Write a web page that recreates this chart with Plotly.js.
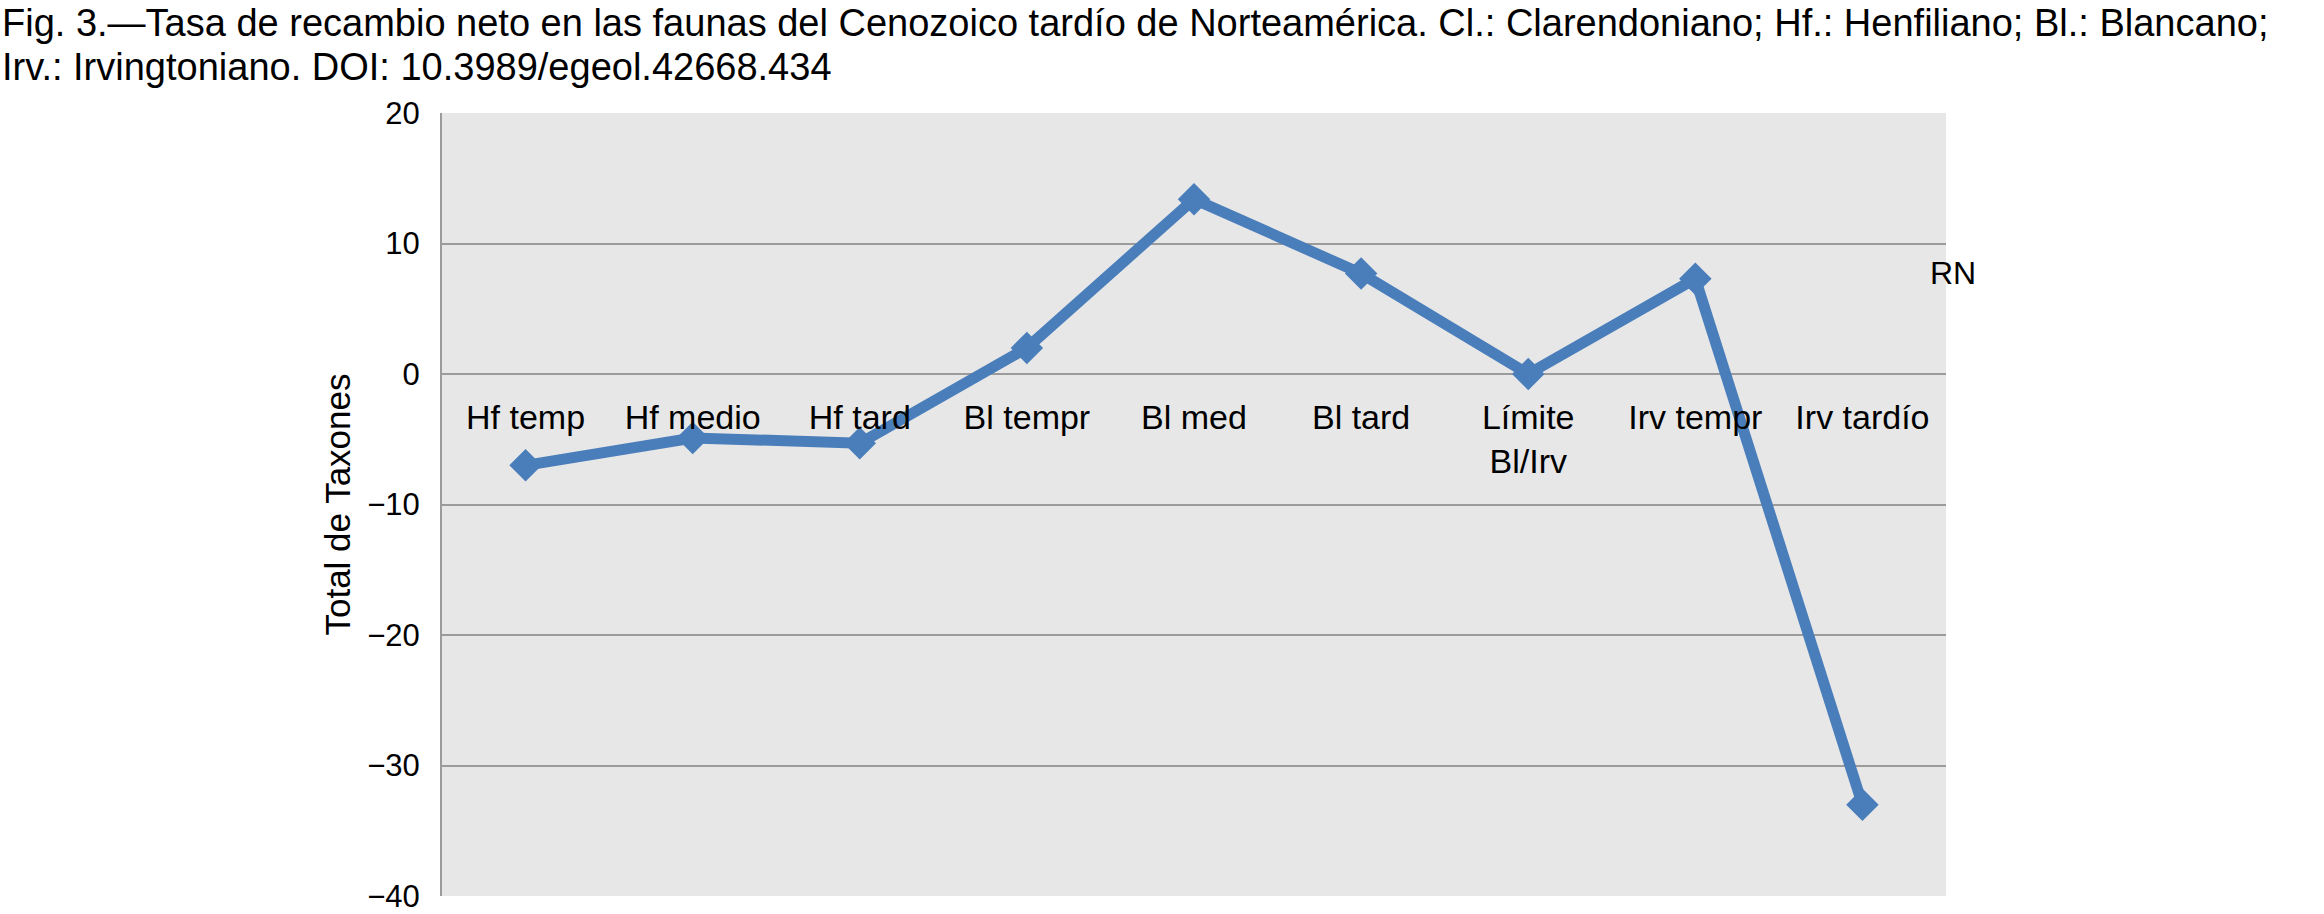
<!DOCTYPE html>
<html>
<head>
<meta charset="utf-8">
<script src="https://cdn.plot.ly/plotly-3.0.1.min.js"></script>
<style>html,body{margin:0;padding:0;background:#fff;}#chart{width:2324px;height:914px;}</style>
</head>
<body>
<div id="chart"></div>
<script>
const categories = ["Hf temp", "Hf medio", "Hf tard", "Bl tempr", "Bl med", "Bl tard", "Límite<br>Bl/Irv", "Irv tempr", "Irv tardío"];
const rnValues = [-7, -4.9, -5.3, 2, 13.4, 7.7, 0, 7.3, -33];
const seriesName = "RN";
const yTickValues = [-40, -30, -20, -10, 0, 10, 20];
const titleLines = [
  "Fig. 3.—Tasa de recambio neto en las faunas del Cenozoico tardío de Norteamérica. Cl.: Clarendoniano; Hf.: Henfiliano; Bl.: Blancano;",
  "Irv.: Irvingtoniano. DOI: 10.3989/egeol.42668.434"
];
const yTitle = "Total de Taxones";

const blue = "#4a7ebb";
const grid = "#9b9b9b";
const font = "Liberation Sans, Arial, Helvetica, sans-serif";

const trace = {
  type: "scatter",
  mode: "lines+markers",
  x: categories.map((c, i) => i),
  y: rnValues,
  name: seriesName,
  line: {color: blue, width: 11},
  marker: {symbol: "diamond", size: 25, color: blue},
  showlegend: false,
  cliponaxis: false
};

const yMin = -40, yMax = 20;
const plotLeft = 442, plotWidth = 1504, plotTop = 113, plotHeight = 783;

const titleAnnotations = titleLines.map((t, i) => ({
  text: t,
  xref: "paper", yref: "paper",
  x: -plotLeft / plotWidth, xanchor: "left",
  y: 1 + (plotTop - [23, 67][i]) / plotHeight, yanchor: "middle",
  showarrow: false,
  font: {size: 38, family: font, color: "#000"}
}));

const layout = {
  width: 2324,
  height: 914,
  paper_bgcolor: "#ffffff",
  plot_bgcolor: "#e7e7e7",
  margin: {l: plotLeft, r: 2324 - plotLeft - plotWidth, t: plotTop, b: 914 - plotTop - plotHeight},
  font: {family: font, color: "#000"},
  xaxis: {
    range: [-0.5, categories.length - 0.5],
    tickmode: "array",
    tickvals: categories.map((c, i) => i),
    ticktext: categories,
    anchor: "free",
    position: (0 - yMin) / (yMax - yMin),
    showgrid: false,
    zeroline: false,
    showline: false,
    ticks: "",
    tickfont: {size: 34, family: font, color: "#000"},
    ticklabelstandoff: 20,
    fixedrange: true
  },
  yaxis: {
    range: [yMin, yMax],
    tickmode: "array",
    tickvals: yTickValues,
    ticktext: yTickValues.map(v => (v < 0 ? "\u2212" + Math.abs(v) : String(v))),
    showgrid: true,
    gridcolor: grid,
    gridwidth: 2,
    zeroline: false,
    showline: true,
    linecolor: grid,
    linewidth: 2,
    ticks: "",
    tickfont: {size: 31, family: font, color: "#000"},
    ticklabelstandoff: 14,
    title: {text: yTitle, font: {size: 35, family: font, color: "#000"}, standoff: 6},
    fixedrange: true
  },
  annotations: titleAnnotations.concat([{
    text: seriesName,
    xref: "paper", yref: "paper",
    x: 0.988, xanchor: "left",
    y: 0.796, yanchor: "middle",
    showarrow: false,
    font: {size: 32, family: font, color: "#000"}
  }])
};

Plotly.newPlot("chart", [trace], layout, {displayModeBar: false, staticPlot: true});
</script>
</body>
</html>
